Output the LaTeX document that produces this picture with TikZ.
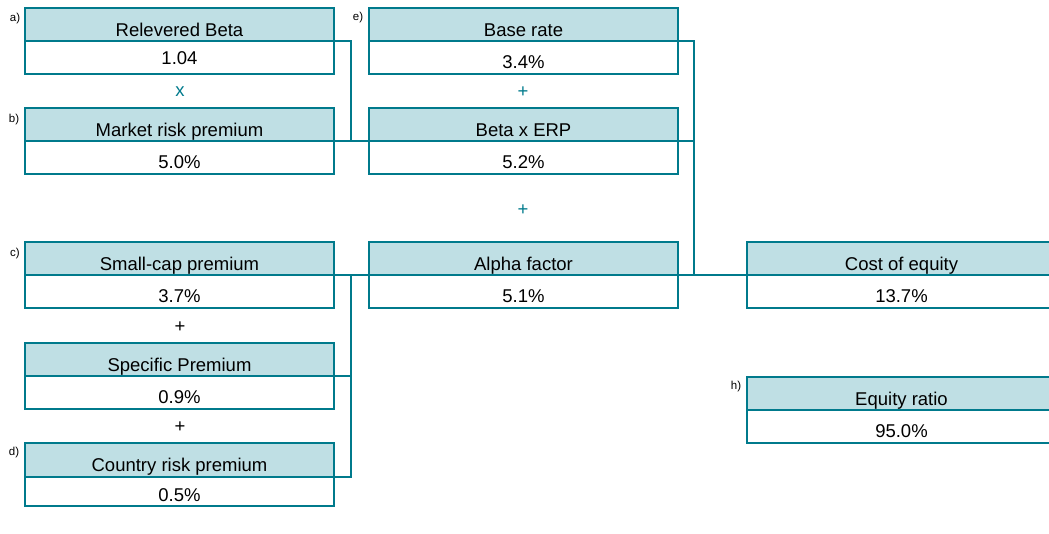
\documentclass[tikz,border=0pt]{standalone}
\usepackage{fontspec}
\setmainfont{Liberation Sans}
\usepackage{tikz}
\usetikzlibrary{positioning,calc}
\definecolor{tealline}{RGB}{0,122,140}
\definecolor{headfill}{RGB}{191,223,228}
\begin{document}
\begin{tikzpicture}[x=1pt,y=-1pt,head/.style={draw=tealline,fill=headfill,line width=2.4pt,minimum width=309pt,minimum height=33pt,outer sep=0pt,inner sep=0pt,anchor=north west,text height=23pt,text depth=0pt,font=\fontsize{18.5}{20}\selectfont}, val/.style={draw=tealline,line width=2.4pt,minimum width=309pt,minimum height=33pt,outer sep=0pt,inner sep=0pt,anchor=north,text height=21pt,text depth=0pt,font=\fontsize{18.5}{20}\selectfont}, link/.style={draw=tealline,line width=2.2pt}, op/.style={font=\fontsize{18.5}{20}\selectfont}, tag/.style={font=\fontsize{11.5}{12}\selectfont}]
\path[use as bounding box,clip] (0,0) rectangle (1049,533);

\node(rb)[head] at (25,8) {Relevered Beta};
\node(rbv)[val,text height=13pt] at (rb.south) {1.04};
\node(mrp)[head] at (25,108) {Market risk premium};
\node(mrpv)[val] at (mrp.south) {5.0\%};
\node(br)[head] at (369,8) {Base rate};
\node(brv)[val] at (br.south) {3.4\%};
\node(bx)[head] at (369,108) {Beta x ERP};
\node(bxv)[val] at (bx.south) {5.2\%};
\node(scp)[head] at (25,242) {Small-cap premium};
\node(scpv)[val] at (scp.south) {3.7\%};
\node(sp)[head] at (25,343) {Specific Premium};
\node(spv)[val] at (sp.south) {0.9\%};
\node(crp)[head,minimum height=34pt] at (25,443) {Country risk premium};
\node(crpv)[val,minimum height=29pt,text height=19pt] at (crp.south) {0.5\%};
\node(af)[head] at (369,242) {Alpha factor};
\node(afv)[val] at (af.south) {5.1\%};
\node(coe)[head] at (747,242) {Cost of equity};
\node(coev)[val] at (coe.south) {13.7\%};
\node(er)[head] at (747,377) {Equity ratio};
\node(erv)[val] at (er.south) {95.0\%};

\node(opx)[op,text=tealline] at (180,92) {x};
\node(opa)[op,text=tealline] at (523,92) {+};
\node(opb)[op,text=tealline] at (523,210) {+};
\node(opc)[op] at (180,327) {+};
\node(opd)[op] at (180,427) {+};

\node(la)[tag] at (15,19) {a)};
\node(lb)[tag] at (14,120) {b)};
\node(lc)[tag] at (15,254) {c)};
\node(ld)[tag] at (14,453) {d)};
\node(le)[tag] at (358,18) {e)};
\node(lh)[tag] at (736,387) {h)};

\coordinate(j1) at (351,141);
\coordinate(j2) at (694,275);
\coordinate(j3) at (351,276);

\draw [link] (rb.south east) -| (j1);
\draw [link] (mrp.south east) to (bx.south west);
\draw [link] (br.south east) -| (j2);
\draw [link] (bx.south east) to (bx.south east -| j2);
\draw [link] (af.south east) to (coe.south west);
\draw [link] (scp.south east) to (af.south west);
\draw [link] (crp.south east) -| (j3);
\draw [link] (sp.south east) to (sp.south east -| j3);
\end{tikzpicture}
\end{document}
